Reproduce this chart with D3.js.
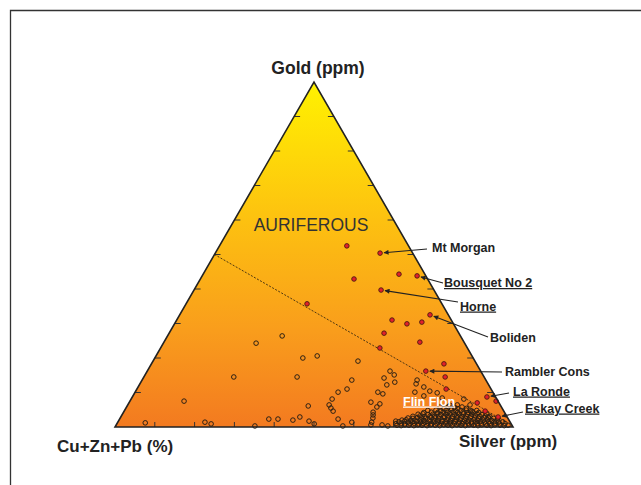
<!DOCTYPE html>
<html>
<head>
<meta charset="utf-8">
<script src="https://cdn.jsdelivr.net/npm/d3@7"></script>
<style>
  body { margin: 0; background: #fff; }
  svg { display: block; }
  text { font-family: "Liberation Sans", Arial, sans-serif; }
</style>
</head>
<body>
<div id="chart"></div>
<script>
// ternary compositions in percent: [gold, silver] (base metals = rest)
var namedDeposits = [
  ["Mt Morgan", 50.4, 41.4],
  ["Bousquet No 2", 43.8, 54.0],
  ["Horne", 39.7, 47.0],
  ["Boliden", 32.5, 62.9],
  ["Rambler Cons", 16.2, 70.0],
  ["La Ronde", 8.7, 89.1],
  ["Eskay Creek", 2.9, 94.8]
];
var otherAuDeposits = [
  [52.5, 32.0], [44.3, 49.2], [42.9, 38.6], [35.7, 30.4], [31.0, 54.1],
  [29.9, 58.4], [30.4, 61.9], [27.2, 54.0], [24.6, 64.3], [22.9, 55.1],
  [18.3, 73.5], [14.5, 75.7], [11.0, 77.7], [7.0, 87.5], [7.5, 92.0],
  [4.6, 90.7]
];
var flinFlon = [
  [24.3, 23.3], [26.4, 28.8], [20.0, 37.2], [20.6, 40.5], [14.5, 22.6],
  [14.5, 38.5], [7.5, 13.6], [6.1, 45.5], [1.2, 7.0], [1.4, 21.9],
  [0.9, 23.7], [0.3, 35.0], [2.3, 37.5], [2.3, 39.8], [2.0, 43.7],
  [2.9, 45.0], [1.7, 47.9], [19.1, 51.5], [13.6, 52.7], [10.1, 51.0],
  [11.0, 52.8], [14.2, 60.5], [16.2, 61.0], [15.1, 62.6], [12.2, 62.2],
  [13.0, 63.8], [10.1, 61.0], [9.6, 62.5], [13.6, 69.1], [12.5, 69.4],
  [11.6, 71.8], [10.4, 73.9], [9.9, 76.0], [10.1, 70.3], [9.0, 73.1],
  [8.1, 50.5], [6.4, 50.6], [5.5, 51.5], [4.6, 52.5], [2.3, 54.9],
  [1.4, 58.8], [0.3, 57.1], [0.6, 64.0], [7.2, 60.7], [5.8, 62.9],
  [6.7, 63.2], [4.3, 62.7], [3.5, 63.1], [2.6, 63.5], [1.4, 63.8],
  [0.6, 66.8], [0.3, 68.4], [1.7, 69.7], [8.4, 78.0], [8.1, 83.6],
  [6.4, 86.0], [4.6, 87.4], [2.9, 92.3], [0.9, 49.6],
  // dense cluster near the silver corner
  [0.5, 70.6], [0.4, 71.7], [0.6, 72.5], [0.5, 73.6], [0.4, 74.9], [0.6, 75.8],
  [0.5, 76.9], [0.4, 78.2], [0.6, 79.0], [0.5, 80.2], [0.4, 81.4], [0.6, 82.3],
  [0.5, 83.4], [0.4, 84.5], [0.6, 85.6], [0.5, 86.7], [0.4, 87.8], [0.6, 88.6],
  [0.5, 89.9], [0.4, 91.0], [0.6, 91.8], [0.5, 93.2], [0.4, 94.3], [0.6, 95.1],
  [0.5, 96.5], [0.4, 97.6], [0.5, 98.5],
  [1.0, 70.1], [1.1, 71.4], [0.9, 72.4], [1.0, 73.6], [1.1, 74.6], [0.9, 75.9],
  [1.0, 76.9], [1.1, 78.1], [0.9, 79.1], [1.0, 80.4], [1.1, 81.4], [0.9, 82.7],
  [1.0, 83.7], [1.1, 84.7], [0.9, 85.9], [1.0, 86.9], [1.1, 88.2], [0.9, 89.2],
  [1.0, 90.5], [1.1, 91.5], [0.9, 92.7], [1.0, 93.7], [1.1, 95.0], [0.9, 96.2],
  [1.0, 97.5],
  [1.5, 70.6], [1.6, 71.9], [1.4, 72.9], [1.5, 73.9], [1.6, 75.1], [1.4, 76.1],
  [1.5, 77.1], [1.6, 78.4], [1.4, 79.4], [1.5, 80.4], [1.6, 81.4], [1.4, 82.4],
  [1.5, 83.4], [1.6, 84.7], [1.4, 85.7], [1.5, 86.7], [1.6, 87.7], [1.4, 88.9],
  [1.5, 89.9], [1.6, 91.0], [1.4, 92.2], [1.5, 93.2], [1.6, 94.5], [1.4, 95.7],
  [1.5, 96.7],
  [2.0, 71.1], [2.1, 72.1], [1.9, 73.4], [2.0, 74.4], [2.1, 75.6], [1.9, 76.6],
  [2.0, 77.9], [2.1, 78.9], [1.9, 80.2], [2.0, 81.2], [2.1, 82.4], [1.9, 83.4],
  [2.0, 84.7], [2.1, 85.7], [1.9, 86.9], [2.0, 87.9], [2.1, 89.2], [1.9, 90.2],
  [2.0, 91.5], [2.1, 92.5], [1.9, 93.7], [2.0, 95.0],
  [2.6, 72.3], [2.5, 73.6], [2.7, 74.6], [2.6, 75.8], [2.5, 76.8], [2.7, 78.1],
  [2.6, 79.1], [2.5, 80.1], [2.7, 81.4], [2.6, 82.4], [2.5, 83.4], [2.7, 84.6],
  [2.6, 85.6], [2.5, 86.9], [2.7, 87.9], [2.6, 89.1], [2.5, 90.1], [2.7, 91.4],
  [2.6, 92.6], [2.5, 93.9], [2.6, 94.9],
  [3.1, 73.3], [3.2, 75.0], [3.1, 76.3], [3.2, 77.6], [3.1, 78.8], [3.2, 79.8],
  [3.1, 81.1], [3.2, 82.1], [3.1, 83.3], [3.2, 84.3], [3.1, 85.6], [3.2, 86.6],
  [3.1, 87.9], [3.2, 88.9], [3.1, 90.1], [3.2, 91.4], [3.1, 92.6],
  [3.7, 74.3], [3.8, 75.5], [3.6, 76.8], [3.7, 78.0], [3.8, 79.0], [3.6, 80.1],
  [3.7, 81.3], [3.8, 82.3], [3.6, 83.6], [3.7, 84.6], [3.8, 85.6], [3.6, 86.8],
  [3.7, 87.8], [3.8, 89.1], [3.6, 90.4], [3.7, 91.6],
  [4.2, 75.5], [4.3, 77.3], [4.2, 79.0], [4.3, 80.3], [4.2, 81.5], [4.3, 82.8],
  [4.2, 84.0], [4.3, 85.3], [4.2, 86.6], [4.3, 87.8], [4.2, 89.3],
  [4.8, 76.2], [4.9, 78.2], [4.7, 79.5], [4.8, 80.8], [4.9, 82.0], [4.7, 83.3],
  [4.8, 84.5], [4.9, 85.8], [4.7, 87.0], [4.8, 88.5],
  [5.3, 80.0], [5.4, 81.8], [5.3, 83.5], [5.4, 85.6],
  [5.8, 78.8], [5.9, 80.8], [5.7, 82.5], [5.8, 84.3],
  [6.3, 81.0], [6.4, 82.8]
];
var tickValues = [0.1, 0.2, 0.3, 0.4, 0.5, 0.6, 0.7, 0.8, 0.9];
// dividing line: from 50% Au on the Au-base metal side toward the Ag corner
var divider = [[50, 0], [1.5, 97.5]];

var width = 641, height = 485;
var svg = d3.select("#chart").append("svg")
  .attr("width", width).attr("height", height);

var x = d3.scaleLinear().domain([0, 1]).range([115, 513]);
var y = d3.scaleLinear().domain([0, 1]).range([427, 82]);

function px(au, ag) { return x(ag / 100 + au / 200); }
function py(au) { return y(au / 100); }

var defs = svg.append("defs");
var grad = defs.append("linearGradient").attr("id", "fillGrad")
  .attr("x1", 0).attr("y1", 0).attr("x2", 0).attr("y2", 1);
grad.append("stop").attr("offset", "0%").attr("stop-color", "#fff200");
grad.append("stop").attr("offset", "40%").attr("stop-color", "#fdc110");
grad.append("stop").attr("offset", "72%").attr("stop-color", "#f99d1c");
grad.append("stop").attr("offset", "100%").attr("stop-color", "#f37a20");

defs.append("marker").attr("id", "arrow")
  .attr("viewBox", "0 0 10 10").attr("refX", 9).attr("refY", 5)
  .attr("markerWidth", 6).attr("markerHeight", 5).attr("orient", "auto")
  .attr("markerUnits", "userSpaceOnUse")
  .append("path").attr("d", "M0,0 L10,5 L0,10 z").attr("fill", "#222");

// frame
svg.append("path")
  .attr("d", "M641,10.5 H10.5 V485")
  .attr("fill", "none").attr("stroke", "#333").attr("stroke-width", 1.3);

// triangle
svg.append("path")
  .attr("d", "M" + x(0) + "," + y(0) + " L" + x(1) + "," + y(0) + " L" + x(0.5) + "," + y(1) + " Z")
  .attr("fill", "url(#fillGrad)");

// ticks
var tg = svg.append("g").attr("stroke", "#333").attr("stroke-width", 1);
tickValues.forEach(function(t) {
  tg.append("line").attr("x1", x(t)).attr("x2", x(t)).attr("y1", y(0)).attr("y2", y(0) - 5);
  tg.append("line").attr("x1", x(t / 2)).attr("x2", x(t / 2) + 6).attr("y1", y(t)).attr("y2", y(t));
  tg.append("line").attr("x1", x(1 - t / 2)).attr("x2", x(1 - t / 2) - 6).attr("y1", y(t)).attr("y2", y(t));
});

// divider line
svg.append("line")
  .attr("x1", px(divider[0][0], divider[0][1])).attr("y1", py(divider[0][0]))
  .attr("x2", px(divider[1][0], divider[1][1])).attr("y2", py(divider[1][0]))
  .attr("stroke", "#3a2a10").attr("stroke-width", 0.9).attr("stroke-dasharray", "2,1.5");

// open circles
svg.append("g").selectAll("circle")
  .data(flinFlon).enter().append("circle")
  .attr("cx", function(d) { return px(d[0], d[1]); })
  .attr("cy", function(d) { return py(d[0]); })
  .attr("r", 2.3)
  .attr("fill", "none").attr("stroke", "#2a1f14").attr("stroke-width", 1);

// red dots
svg.append("g").selectAll("circle")
  .data(otherAuDeposits.concat(namedDeposits.map(function(d) { return [d[1], d[2]]; })))
  .enter().append("circle")
  .attr("cx", function(d) { return px(d[0], d[1]); })
  .attr("cy", function(d) { return py(d[0]); })
  .attr("r", 2.3)
  .attr("fill", "#e3202b").attr("stroke", "#4a1c10").attr("stroke-width", 0.9);

// triangle outline on top
svg.append("path")
  .attr("d", "M" + x(0) + "," + y(0) + " L" + x(1) + "," + y(0) + " L" + x(0.5) + "," + y(1) + " Z")
  .attr("fill", "none").attr("stroke", "#222").attr("stroke-width", 1.6)
  .attr("stroke-linejoin", "miter");

// deposit labels
var labelPos = {
  "Mt Morgan": [432, 252, false, [427, 249]],
  "Bousquet No 2": [444, 287, true, [443, 283]],
  "Horne": [460, 310.5, true, [458, 302]],
  "Boliden": [490, 341.5, false, [488, 337]],
  "Rambler Cons": [505, 376, false, [502, 372]],
  "La Ronde": [513, 395.5, true, [509, 393]],
  "Eskay Creek": [525, 412.5, true, [523, 412]]
};
namedDeposits.forEach(function(d) {
  var p = labelPos[d[0]];
  var tx = px(d[1], d[2]), ty = py(d[1]);
  var sx = p[3][0], sy = p[3][1];
  var dx = sx - tx, dy = sy - ty, len = Math.sqrt(dx * dx + dy * dy);
  svg.append("line")
    .attr("x1", sx).attr("y1", sy)
    .attr("x2", tx + dx / len * 4).attr("y2", ty + dy / len * 4)
    .attr("stroke", "#222").attr("stroke-width", 1.1)
    .attr("marker-end", "url(#arrow)");
  svg.append("text")
    .attr("x", p[0]).attr("y", p[1])
    .attr("font-size", "12.5px").attr("font-weight", "bold").attr("fill", "#222")
    .style("text-decoration", p[2] ? "underline" : "none")
    .text(d[0]);
});

svg.append("text")
  .attr("x", 403).attr("y", 405.5)
  .attr("font-size", "12.5px").attr("font-weight", "bold").attr("fill", "#fff")
  .style("text-decoration", "underline")
  .text("Flin Flon");

svg.append("text")
  .attr("x", 311).attr("y", 231).attr("text-anchor", "middle")
  .attr("font-size", "17.5px").attr("fill", "#333")
  .text("AURIFEROUS");

// axis titles
svg.append("text").attr("x", 318).attr("y", 74).attr("text-anchor", "middle")
  .attr("font-size", "17.5px").attr("font-weight", "bold").attr("fill", "#222")
  .text("Gold (ppm)");
svg.append("text").attr("x", 57).attr("y", 452)
  .attr("font-size", "17px").attr("font-weight", "bold").attr("fill", "#222")
  .text("Cu+Zn+Pb (%)");
svg.append("text").attr("x", 459).attr("y", 447)
  .attr("font-size", "17px").attr("font-weight", "bold").attr("fill", "#222")
  .text("Silver (ppm)");
</script>
</body>
</html>
